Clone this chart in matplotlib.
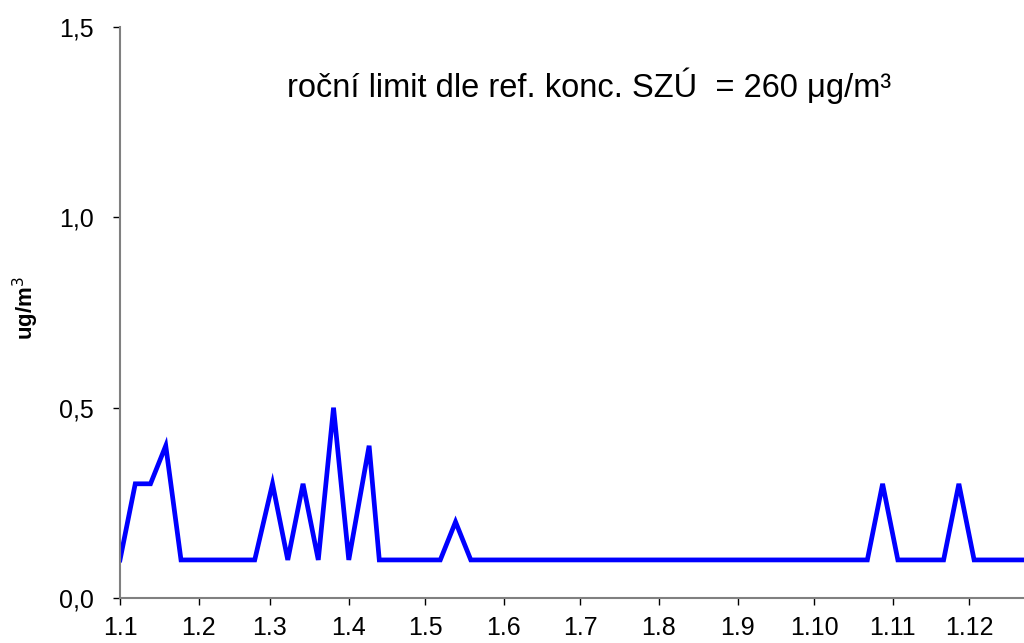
import pandas as pd
import matplotlib
matplotlib.use("Agg")
import matplotlib.pyplot as plt

plt.rcParams["font.family"] = ["Liberation Sans", "DejaVu Sans"]

# measurement dates (day.month) and concentrations in ug/m3
dates = [
    "1.1", "7.1", "13.1", "19.1", "25.1", "23.2", "2.3", "8.3", "14.3",
    "20.3", "26.3", "1.4", "9.4", "13.4", "7.5", "13.5", "19.5", "22.10",
    "28.10", "3.11", "21.11", "27.11", "3.12", "31.12",
]
values = [
    0.1, 0.3, 0.3, 0.4, 0.1, 0.1, 0.3, 0.1, 0.3,
    0.1, 0.5, 0.1, 0.4, 0.1, 0.1, 0.2, 0.1, 0.1,
    0.3, 0.1, 0.1, 0.3, 0.1, 0.1,
]
month_labels = ["1.1", "1.2", "1.3", "1.4", "1.5", "1.6",
                "1.7", "1.8", "1.9", "1.10", "1.11", "1.12"]
y_ticks = [0.0, 0.5, 1.0, 1.5]
y_labels = ["0,0", "0,5", "1,0", "1,5"]


def to_day(s):
    d = pd.to_datetime(s + ".2011", format="%d.%m.%Y")
    return d.dayofyear - 1


x = [to_day(d) for d in dates]
month_pos = [to_day(m) for m in month_labels]

fig = plt.figure(figsize=(10.24, 6.43), dpi=100)
ax = fig.add_axes([120 / 1024, 45 / 643, 904 / 1024, 571 / 643])

ax.plot(x, values, color="#0000FF", linewidth=3.4, solid_joinstyle="miter")

ax.set_xlim(0, 904 / 2.542)
ax.set_ylim(0, 1.5)
ax.set_xticks(month_pos)
ax.set_xticklabels(month_labels, fontsize=18)
ax.set_yticks(y_ticks)
ax.set_yticklabels(y_labels, fontsize=18)
ax.tick_params(axis="both", direction="out", length=5, width=1, colors="black")
ax.tick_params(axis="x", pad=8)
ax.tick_params(axis="y", pad=14)

for side in ["top", "right"]:
    ax.spines[side].set_visible(False)
for side in ["left", "bottom"]:
    ax.spines[side].set_color("#808080")
    ax.spines[side].set_linewidth(1.5)

fig.text(26 / 1024, 1 - 308 / 643, "ug/m$^3$", rotation=90,
         ha="center", va="center", fontsize=16, fontweight="bold")

fig.text(287 / 1024, 1 - 97 / 643,
         "roční limit dle ref. konc. SZÚ  = 260 μg/m³",
         ha="left", va="baseline", fontsize=23.5)

fig.savefig("out.png", dpi=100)
